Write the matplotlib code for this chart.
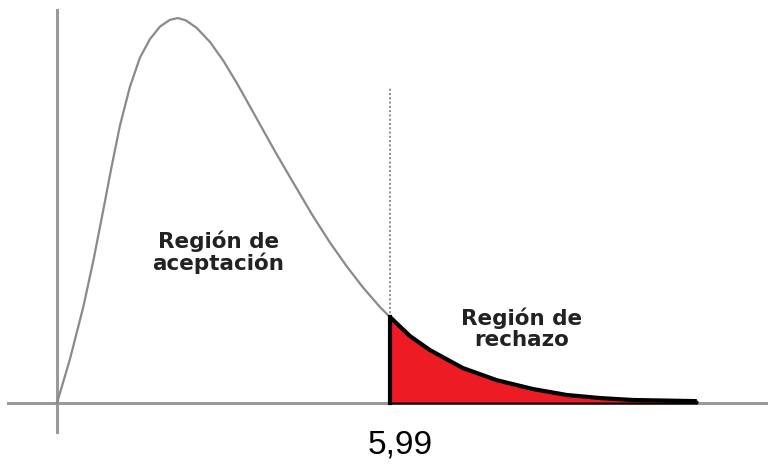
import matplotlib
matplotlib.use("Agg")
import matplotlib.pyplot as plt

# valores (escala tipo chi-cuadrado)
curve_x = [0.0, 0.234, 0.473, 0.653, 0.833, 0.984, 1.133, 1.313, 1.493, 1.673,
           1.853, 2.032, 2.176, 2.320, 2.513, 2.752, 2.991, 3.232, 3.471, 3.710,
           3.951, 4.191, 4.430, 4.610, 4.910, 5.210, 5.509, 5.809, 5.99]
curve_y = [0.0, 0.0229, 0.0499, 0.0738, 0.1003, 0.1231, 0.1442, 0.1644, 0.1795, 0.1891,
           0.1956, 0.1991, 0.2000, 0.1988, 0.1949, 0.1876, 0.1779, 0.1664, 0.1541, 0.1417,
           0.1293, 0.1174, 0.1057, 0.0969, 0.0834, 0.0711, 0.0599, 0.0499, 0.0447]

tail_x = [5.99, 6.35, 6.71, 7.30, 7.91, 8.56, 9.17, 9.77, 10.36, 11.51]
tail_y = [0.0447, 0.0348, 0.0275, 0.0182, 0.0119, 0.0073, 0.0042, 0.0026, 0.0016, 0.0010]

crit = 5.99
crit_label = "5,99"
label_accept = "Región de\naceptación"
label_reject = "Región de\nrechazo"

fig = plt.figure(figsize=(7.68, 4.66), dpi=100)
ax = fig.add_axes([0, 0, 1, 1])
ax.set_xlim(-1.025, 12.79)
ax.set_ylim(-0.0327, 0.2094)
ax.axis('off')

# ejes
ax.plot([-0.885, 12.79], [0, 0], color='#9a9a9a', lw=2.2, zorder=1)
ax.plot([0, 0], [-0.015, 0.204], color='#9a9a9a', lw=2.2, zorder=1)

# curva de densidad
ax.plot(curve_x, curve_y, color='#8a8a8a', lw=1.6, zorder=2, solid_joinstyle='round')

# linea punteada en el valor critico
ax.plot([crit, crit], [0, 0.1636], color='#8a8a8a', lw=1.4, ls=(0, (1, 1.2)), zorder=2)

# region de rechazo
ax.fill_between(tail_x, tail_y, 0, facecolor='#ED1C24', edgecolor='black', lw=1.5, zorder=3)
ax.plot(tail_x, tail_y, color='black', lw=3.0, zorder=4, solid_capstyle='butt',
        solid_joinstyle='round')
ax.plot([crit, crit], [0, tail_y[0]], color='black', lw=3.0, zorder=4)

# textos
ax.text(2.90, 0.0784, label_accept, ha='center', va='center', fontsize=15.5,
        fontweight='bold', color='#222222', linespacing=1.05)
ax.text(8.36, 0.0384, label_reject, ha='center', va='center', fontsize=15.5,
        fontweight='bold', color='#222222', linespacing=1.05)
ax.text(6.17, -0.0218, crit_label, ha='center', va='center', fontsize=24,
        family='Liberation Sans', color='black')

fig.savefig('out.png', dpi=100)
